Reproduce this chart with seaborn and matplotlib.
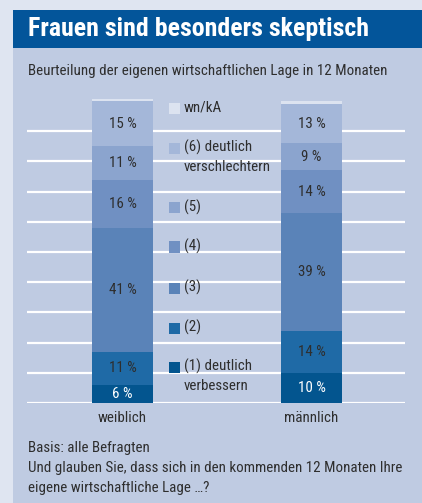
import numpy as np
import pandas as pd
import matplotlib
matplotlib.use("Agg")
import matplotlib.pyplot as plt
import seaborn as sns
from matplotlib.patches import Rectangle

# ---------------- data ----------------
categories = ["weiblich", "männlich"]
level_names = ["(1) deutlich\nverbessern", "(2)", "(3)", "(4)", "(5)",
               "(6) deutlich\nverschlechtern", "wn/kA"]
lvl1 = [6, 10]
lvl2 = [11, 14]
lvl3 = [41, 39]
lvl4 = [16, 14]
lvl5 = [11, 9]
lvl6 = [15, 13]
wnka = [0.5, 1]

title = "Frauen sind besonders skeptisch"
subtitle = "Beurteilung der eigenen wirtschaftlichen Lage in 12 Monaten"
footer = ["Basis: alle Befragten",
          "Und glauben Sie, dass sich in den kommenden 12 Monaten Ihre",
          "eigene wirtschaftliche Lage \u2026?"]

# ---------------- style ----------------
seg_colors = ["#03558f", "#1f6aa6", "#5a83b8", "#7090c2", "#8ba4ce", "#a4b7d9", "#dce3f0"]
outer_bg = "#dfe5f1"
panel_bg = "#bfcbe2"
title_bg = "#03559a"
txt = "#2e2e2e"

sns.set_style("white")
plt.rcParams["font.family"] = ["Roboto Condensed", "DejaVu Sans"]

W, H = 422, 503
fig = plt.figure(figsize=(W / 100, H / 100), dpi=100)
fig.patch.set_facecolor(outer_bg)
renderer = fig.canvas.get_renderer()


def fx(x):
    return x / W


def fy(y):
    return 1 - y / H


def fit_size(s, target_px, weight="normal"):
    t = fig.text(0, 0, s, fontsize=10, fontweight=weight)
    w = t.get_window_extent(renderer).width
    t.remove()
    return 10 * target_px / w


body_fs = fit_size(subtitle, 355)
title_fs = fit_size(title, 342, "bold")
label_fs = body_fs

fig.add_artist(Rectangle((fx(13), 0), fx(W - 13), (H - 47.5) / H,
                         facecolor=panel_bg, edgecolor="none", zorder=-5))
fig.add_artist(Rectangle((fx(13), fy(47.5)), fx(W - 13), (47.5 - 10) / H,
                         facecolor=title_bg, edgecolor="none", zorder=-5))

fig.text(fx(28), fy(29), title, color="white", fontsize=title_fs, fontweight="bold",
         va="center", ha="left")
fig.text(fx(28), fy(71), subtitle, color=txt, fontsize=body_fs, va="center", ha="left")
for i, line in enumerate(footer):
    fig.text(fx(28), fy(448 + 20 * i), line, color=txt, fontsize=body_fs,
             va="center", ha="left")

# ---------------- axes ----------------
ymax = 101
ax = fig.add_axes([fx(27), 100 / H, fx(378), (302 * ymax / 100) / H])
ax.patch.set_alpha(0)

vals = np.array([lvl1, lvl2, lvl3, lvl4, lvl5, lvl6, wnka], dtype=float)
cum = np.cumsum(vals, axis=0)

for i in range(len(level_names) - 1, -1, -1):
    df = pd.DataFrame({"cat": categories, "v": cum[i]})
    sns.barplot(data=df, x="cat", y="v", color=seg_colors[i], saturation=1,
                width=0.323, linewidth=0, ax=ax, zorder=2)

# segment labels
for j in range(len(categories)):
    bottom = 0
    for i in range(len(level_names) - 1):
        v = vals[i, j]
        ax.text(j, bottom + v / 2, f"{int(v)} %", ha="center", va="center",
                fontsize=label_fs, color="white" if i == 0 else txt, zorder=5)
        bottom += v

ax.set_xlim(-0.505, 1.495)
ax.set_ylim(0, ymax)
ax.set_yticks(np.arange(0, 100, 10))
ax.yaxis.grid(True, color="white", linewidth=1.6)
ax.xaxis.grid(False)
ax.set_axisbelow(True)
ax.set_yticklabels([])
ax.tick_params(axis="both", length=0)
ax.tick_params(axis="x", pad=6, labelsize=body_fs, labelcolor=txt)
ax.set_xlabel("")
ax.set_ylabel("")
for s in ax.spines.values():
    s.set_visible(False)

# ---------------- legend ----------------
leg_y = [367, 328, 288, 247, 208, 148, 108]
for i, name in enumerate(level_names):
    y = leg_y[i]
    fig.add_artist(Rectangle((fx(168.5), fy(y + 5.5)), 11 / W, 11 / H,
                             facecolor=seg_colors[i], edgecolor="none", zorder=3))
    fig.text(fx(184), fy(y - 8), name, color=txt, fontsize=body_fs, ha="left", va="top",
             linespacing=1.45)

fig.savefig("out.png", dpi=100, facecolor=fig.get_facecolor())
